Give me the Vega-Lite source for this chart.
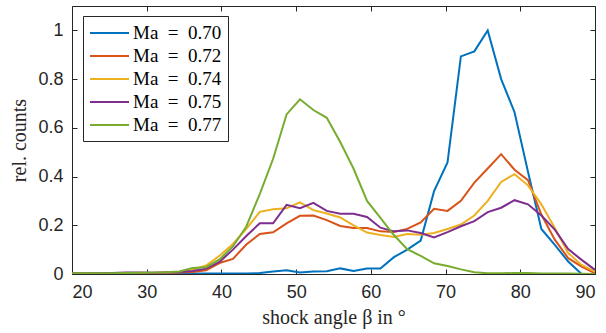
{
  "$schema": "https://vega.github.io/schema/vega-lite/v6.json",
  "width": 523,
  "height": 268,
  "autosize": {"type": "none"},
  "padding": {"left": 72, "top": 6, "right": 11, "bottom": 59},
  "background": "white",
  "data": {
    "values": [
      {"b": 20.00, "v70": 0.002, "v72": 0.002, "v74": 0.002, "v75": 0.002, "v77": 0.002},
      {"b": 21.79, "v70": 0.002, "v72": 0.002, "v74": 0.002, "v75": 0.002, "v77": 0.003},
      {"b": 23.59, "v70": 0.002, "v72": 0.003, "v74": 0.002, "v75": 0.003, "v77": 0.003},
      {"b": 25.38, "v70": 0.002, "v72": 0.003, "v74": 0.003, "v75": 0.004, "v77": 0.003},
      {"b": 27.18, "v70": 0.002, "v72": 0.004, "v74": 0.003, "v75": 0.006, "v77": 0.004},
      {"b": 28.97, "v70": 0.002, "v72": 0.004, "v74": 0.004, "v75": 0.006, "v77": 0.005},
      {"b": 30.77, "v70": 0.002, "v72": 0.004, "v74": 0.004, "v75": 0.005, "v77": 0.006},
      {"b": 32.56, "v70": 0.002, "v72": 0.005, "v74": 0.006, "v75": 0.006, "v77": 0.007},
      {"b": 34.36, "v70": 0.002, "v72": 0.006, "v74": 0.008, "v75": 0.008, "v77": 0.010},
      {"b": 36.15, "v70": 0.002, "v72": 0.008, "v74": 0.018, "v75": 0.012, "v77": 0.025},
      {"b": 37.95, "v70": 0.002, "v72": 0.015, "v74": 0.035, "v75": 0.022, "v77": 0.028},
      {"b": 39.74, "v70": 0.002, "v72": 0.045, "v74": 0.075, "v75": 0.050, "v77": 0.060},
      {"b": 41.54, "v70": 0.002, "v72": 0.062, "v74": 0.123, "v75": 0.100, "v77": 0.113},
      {"b": 43.33, "v70": 0.002, "v72": 0.121, "v74": 0.185, "v75": 0.156, "v77": 0.195},
      {"b": 45.13, "v70": 0.004, "v72": 0.164, "v74": 0.255, "v75": 0.208, "v77": 0.328},
      {"b": 46.92, "v70": 0.010, "v72": 0.171, "v74": 0.266, "v75": 0.208, "v77": 0.473},
      {"b": 48.72, "v70": 0.015, "v72": 0.208, "v74": 0.270, "v75": 0.284, "v77": 0.655},
      {"b": 50.51, "v70": 0.006, "v72": 0.239, "v74": 0.294, "v75": 0.270, "v77": 0.717},
      {"b": 52.31, "v70": 0.010, "v72": 0.240, "v74": 0.262, "v75": 0.292, "v77": 0.673},
      {"b": 54.10, "v70": 0.011, "v72": 0.221, "v74": 0.248, "v75": 0.259, "v77": 0.641},
      {"b": 55.90, "v70": 0.023, "v72": 0.197, "v74": 0.232, "v75": 0.247, "v77": 0.542},
      {"b": 57.69, "v70": 0.012, "v72": 0.189, "v74": 0.200, "v75": 0.247, "v77": 0.432},
      {"b": 59.49, "v70": 0.023, "v72": 0.189, "v74": 0.170, "v75": 0.234, "v77": 0.300},
      {"b": 61.28, "v70": 0.023, "v72": 0.175, "v74": 0.160, "v75": 0.190, "v77": 0.230},
      {"b": 63.08, "v70": 0.069, "v72": 0.172, "v74": 0.152, "v75": 0.175, "v77": 0.160},
      {"b": 64.87, "v70": 0.100, "v72": 0.185, "v74": 0.164, "v75": 0.179, "v77": 0.102},
      {"b": 66.67, "v70": 0.137, "v72": 0.212, "v74": 0.161, "v75": 0.168, "v77": 0.074},
      {"b": 68.46, "v70": 0.340, "v72": 0.268, "v74": 0.168, "v75": 0.150, "v77": 0.044},
      {"b": 70.26, "v70": 0.458, "v72": 0.259, "v74": 0.185, "v75": 0.172, "v77": 0.033},
      {"b": 72.05, "v70": 0.893, "v72": 0.300, "v74": 0.203, "v75": 0.196, "v77": 0.019},
      {"b": 73.85, "v70": 0.914, "v72": 0.375, "v74": 0.240, "v75": 0.217, "v77": 0.007},
      {"b": 75.64, "v70": 1.000, "v72": 0.433, "v74": 0.300, "v75": 0.254, "v77": 0.003},
      {"b": 77.44, "v70": 0.800, "v72": 0.492, "v74": 0.378, "v75": 0.272, "v77": 0.003},
      {"b": 79.23, "v70": 0.664, "v72": 0.428, "v74": 0.410, "v75": 0.303, "v77": 0.004},
      {"b": 81.03, "v70": 0.420, "v72": 0.385, "v74": 0.364, "v75": 0.286, "v77": 0.004},
      {"b": 82.82, "v70": 0.185, "v72": 0.244, "v74": 0.286, "v75": 0.240, "v77": 0.002},
      {"b": 84.62, "v70": 0.120, "v72": 0.141, "v74": 0.189, "v75": 0.182, "v77": 0.002},
      {"b": 86.41, "v70": 0.051, "v72": 0.065, "v74": 0.086, "v75": 0.102, "v77": 0.002},
      {"b": 88.21, "v70": 0.000, "v72": 0.030, "v74": 0.037, "v75": 0.058, "v77": 0.001},
      {"b": 90.00, "v70": 0.000, "v72": 0.003, "v74": 0.010, "v75": 0.017, "v77": 0.000}
    ]
  },
  "transform": [{"fold": ["v70", "v72", "v74", "v75", "v77"], "as": ["s", "c"]}],
  "layer": [
    {
      "mark": {"type": "line", "opacity": 0},
      "encoding": {
        "x": {"field": "b", "type": "quantitative", "scale": {"domain": [20, 90], "nice": false},
          "axis": {"orient": "top", "values": [20, 30, 40, 50, 60, 70, 80, 90], "labels": false, "grid": false, "title": null, "tickSize": -5, "domain": true}},
        "y": {"field": "c", "type": "quantitative", "scale": {"domain": [0, 1.1], "nice": false},
          "axis": {"orient": "right", "values": [0, 0.2, 0.4, 0.6, 0.8, 1], "labels": false, "grid": false, "title": null, "tickSize": -5, "domain": true}},
        "detail": {"field": "s"}
      }
    },
    {
      "mark": {"type": "line", "strokeWidth": 2, "clip": true},
      "encoding": {
        "x": {"field": "b", "type": "quantitative", "scale": {"domain": [20, 90], "nice": false},
          "axis": {"orient": "bottom", "values": [20, 30, 40, 50, 60, 70, 80, 90], "title": "shock angle β in °", "tickSize": -5, "labelPadding": 14, "titlePadding": 6}},
        "y": {"field": "c", "type": "quantitative", "scale": {"domain": [0, 1.1], "nice": false},
          "axis": {"orient": "left", "values": [0, 0.2, 0.4, 0.6, 0.8, 1], "format": ".1~f", "title": "rel. counts", "tickSize": -5, "labelPadding": 14, "titlePadding": 8}},
        "color": {
          "field": "s", "type": "nominal",
          "scale": {"domain": ["v70", "v72", "v74", "v75", "v77"], "range": ["#0072BD", "#D95319", "#EDB120", "#7E2F8E", "#77AC30"]},
          "legend": {
            "title": null,
            "orient": "none",
            "legendX": 11,
            "legendY": 10,
            "labelExpr": "'Ma\u2002=\u20020.' + slice(datum.label, 1)",
            "symbolType": "M-1,0L2.9,0",
            "symbolSize": 400,
            "symbolStrokeWidth": 2,
            "labelFont": "Liberation Serif",
            "labelFontSize": 19,
            "labelColor": "#000000",
            "fillColor": "white",
            "strokeColor": "#262626",
            "padding": 6,
            "rowPadding": 2,
            "labelOffset": 22
          }
        }
      }
    }
  ],
  "resolve": {"axis": {"x": "independent", "y": "independent"}},
  "config": {
    "view": {"stroke": null},
    "axis": {
      "labelFont": "Liberation Sans",
      "labelFontSize": 18,
      "labelColor": "#262626",
      "titleFont": "Liberation Serif",
      "titleFontSize": 20,
      "titleFontWeight": "normal",
      "titleColor": "#262626",
      "domainColor": "#262626",
      "domainWidth": 1,
      "tickColor": "#262626",
      "tickWidth": 1,
      "gridColor": "#e3e3e3",
      "gridWidth": 1
    }
  }
}
